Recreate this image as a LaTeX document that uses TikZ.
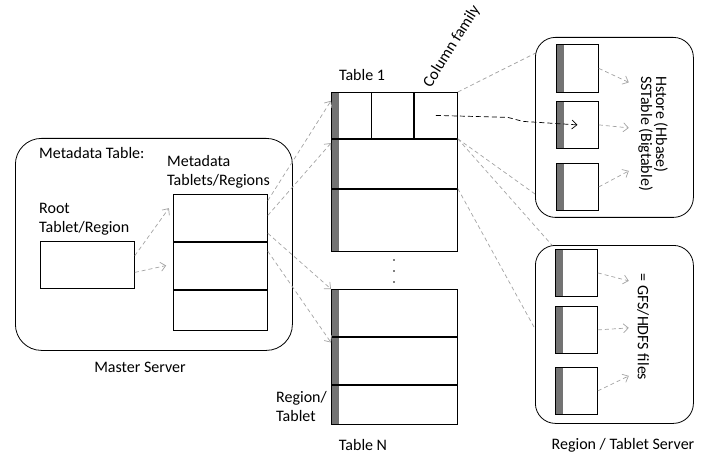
\documentclass[tikz,border=0pt]{standalone}
\usepackage{fontspec}
\setmainfont{Carlito}
\usetikzlibrary{arrows.meta,positioning,calc}
\definecolor{bargray}{HTML}{737373}
\definecolor{linegray}{HTML}{A3A3A3}
\tikzstyle{server} = [rectangle, draw=black, line width=0.8pt, rounded corners=20pt, inner sep=0pt, anchor=north west]
\tikzstyle{cell} = [rectangle, draw=black, line width=0.8pt, inner sep=0pt, anchor=north west]
\tikzstyle{tabrow} = [cell, path picture={\fill[bargray] (path picture bounding box.north west) rectangle ([xshift=8pt]path picture bounding box.south west);}]
\tikzstyle{txt} = [font=\fontsize{16}{19}\selectfont, inner sep=0pt]
\tikzstyle{gline} = [linegray, line width=0.7pt, dash pattern=on 4pt off 3pt]
\tikzstyle{garrow} = [gline, -{Straight Barb[length=5pt,width=9pt]}]
\tikzstyle{barrow} = [black, line width=0.7pt, dash pattern=on 5pt off 3pt, -{Straight Barb[length=5pt,width=9pt]}]

\begin{document}
\begin{tikzpicture}[x=1pt, y=-1pt]
\useasboundingbox (0,0) rectangle (711,470);

% master server
\node (master) [server, rounded corners=26pt, minimum width=277pt, minimum height=212pt] at (15,138) {};
\node (mtab) [txt, anchor=west] at (39,153) {Metadata Table:};
\node (rootlab) [txt, anchor=west, align=left] at (39,219) {Root\\Tablet/Region};
\node (metalab) [txt, anchor=west, align=left] at (167,172) {Metadata\\Tablets/Regions};
\node (root) [cell, minimum width=94pt, minimum height=47pt] at (40,241) {};
\node (m1) [cell, minimum width=94pt, minimum height=47pt] at (173,194) {};
\node (m2) [cell, minimum width=94pt, minimum height=47pt] at (m1.south west) {};
\node (m3) [cell, minimum width=94pt, minimum height=40pt] at (m2.south west) {};
\node (mslab) [txt] at (140,367) {Master Server};

% table 1
\node (t1a) [tabrow, minimum width=126pt, minimum height=46pt] at (331,92) {};
\node (c3) [cell, minimum width=43pt, minimum height=46pt, anchor=north east] at (t1a.north east) {};
\node (c2) [cell, minimum width=42pt, minimum height=46pt, anchor=north east] at (c3.north west) {};
\node (t1b) [tabrow, minimum width=126pt, minimum height=49pt] at (t1a.south west) {};
\node (t1c) [tabrow, minimum width=126pt, minimum height=62pt] at (t1b.south west) {};
\node (t1lab) [txt] at (362,75) {Table 1};
\node (cflab) [txt, rotate=58, anchor=south west] at (433,90) {Column family};

\foreach \y in {260,271,282}
  \fill (394,\y) circle (0.9);

% table N
\node (tNa) [tabrow, minimum width=126pt, minimum height=47pt] at (331,289) {};
\node (tNb) [tabrow, minimum width=126pt, minimum height=47pt] at (tNa.south west) {};
\node (tNc) [tabrow, minimum width=126pt, minimum height=39pt] at (tNb.south west) {};
\node (tNlab) [txt] at (363,445) {Table N};
\node (rtlab) [txt, anchor=west, align=left] at (276,407) {Region/\\Tablet};

% region / tablet servers
\node (srvA) [server, minimum width=158pt, minimum height=180pt] at (535,37) {};
\node (sa1) [tabrow, minimum width=42pt, minimum height=48pt] at (556,44) {};
\node (sa2) [tabrow, minimum width=42pt, minimum height=47pt] at (556,101) {};
\node (sa3) [tabrow, minimum width=42pt, minimum height=47pt] at (556,163) {};
\node (sslab) [txt, font=\fontsize{16}{15}\selectfont, rotate=-90, align=left, anchor=west] at (653,76) {Hstore (Hbase)\\SSTable (Bigtable)};

\node (srvB) [server, minimum width=158pt, minimum height=178pt] at (535,245) {};
\node (sb1) [tabrow, minimum width=42pt, minimum height=47pt] at (555,249) {};
\node (sb2) [tabrow, minimum width=42pt, minimum height=47pt] at (555,306) {};
\node (sb3) [tabrow, minimum width=42pt, minimum height=47pt] at (555,367) {};
\node (gfslab) [txt, rotate=-90] at (643,327) {= GFS/HDFS files};
\node (rslab) [txt] at (623,445) {Region / Tablet Server};

% connectors
\draw [garrow, shorten >=7pt] (root.11) -- (m1.162);
\draw [garrow, shorten >=7pt] (root.-9) -- (m2.178);
\draw [garrow] (m1.20) -- (t1a.167);
\draw [garrow] (m1.3) -- (t1b.162);
\draw [garrow] (m1.-18) -- (tNa.north west);
\draw [garrow] (m2.17) -- (tNb.164);

\draw [gline] (t1a.north east) -- (srvA.137);
\draw [gline] (t1a.south east) -- (srvA.220);
\draw [gline] (t1a.south east) -- (srvB.125);
\draw [gline] (t1b.south east) -- (srvB.176);

\draw [barrow] (c3.center) -- ++(72,2) -- ++(15,4) -- (sa2.center);

\draw [garrow] (sa1.east) -- ++(30,14);
\draw [garrow] (sa2.east) -- ++(30,3);
\draw [garrow] (sa3.east) -- ++(30,-16);
\draw [garrow] (sb1.east) -- ++(31,8);
\draw [garrow] (sb2.east) -- ++(31,-2);
\draw [garrow] (sb3.east) -- ++(31,-15);
\end{tikzpicture}
\end{document}
